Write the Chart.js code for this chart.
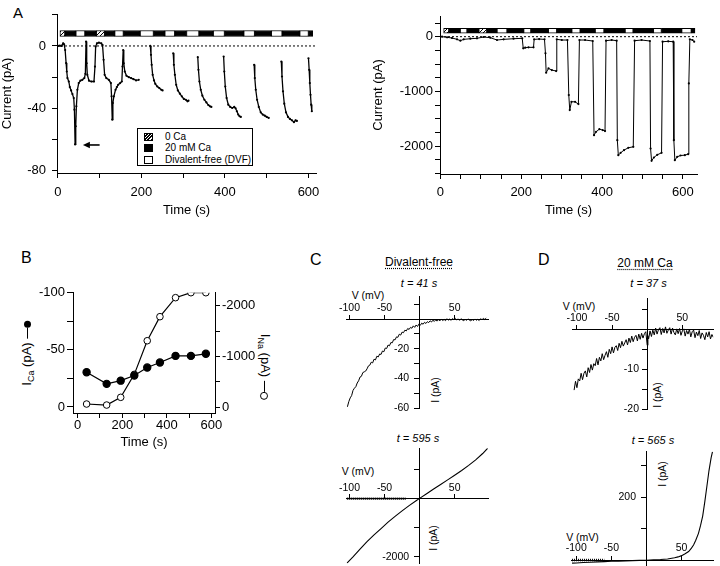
<!DOCTYPE html>
<html><head><meta charset="utf-8">
<script src="https://cdn.jsdelivr.net/npm/chart.js@4.4.1/dist/chart.umd.min.js"></script>
<style>
body{margin:0;background:#fff;}
#root{position:relative;width:720px;height:566px;overflow:hidden;font-family:"Liberation Sans",Arial,Helvetica,sans-serif;color:#000;background:#fff;}
#root canvas{position:absolute;}
.t{position:absolute;white-space:nowrap;line-height:1;}
.c{transform:translate(-50%,-50%);}
.rl{transform:translate(-50%,-50%) rotate(-90deg);}
.rr{transform:translate(-50%,-50%) rotate(90deg);}
.u{text-decoration:underline dotted;text-underline-offset:2px;}
.i{font-style:italic;}
.lg{position:absolute;left:6px;height:10px;line-height:10px;white-space:nowrap;font-size:10px;}
.sw{display:inline-block;width:7px;height:6px;border:1px solid #000;margin-right:12px;vertical-align:top;margin-top:1px;box-sizing:content-box;}
.hatch{background:repeating-linear-gradient(135deg,#fff 0,#fff 1.2px,#000 1.2px,#000 2.2px);}
.ln{display:inline-block;width:11px;height:1px;background:#000;vertical-align:middle;margin-left:4px;}
.dot{display:inline-block;width:7px;height:7px;border-radius:50%;background:#000;vertical-align:middle;}
.odot{display:inline-block;width:6px;height:6px;border-radius:50%;border:1px solid #000;background:#fff;vertical-align:middle;}
sub{font-size:9px;vertical-align:-3px;}
</style></head>
<body><div id="root">
<div class="t" style="left:13px;top:5px;font-size:15px">A</div>
<div class="t" style="left:21px;top:250px;font-size:16px">B</div>
<div class="t" style="left:310px;top:252px;font-size:16px">C</div>
<div class="t" style="left:538px;top:252px;font-size:16px">D</div>

<div style="position:absolute;left:137px;top:128px;width:114px;height:36px;border:1px solid #000;background:#fff;z-index:5">
  <div class="lg" style="top:2.5px"><span class="sw hatch"></span>0 Ca</div>
  <div class="lg" style="top:13.5px"><span class="sw" style="background:#000"></span>20 mM Ca</div>
  <div class="lg" style="top:26px"><span class="sw" style="background:#fff"></span>Divalent-free (DVF)</div>
</div>

<div class="t rl" style="left:28px;top:353px;font-size:13px">I<sub>Ca</sub> (pA)<span class="ln"></span><span class="dot"></span></div>
<div class="t rr" style="left:264px;top:367px;font-size:13px">I<sub>Na</sub> (pA)<span class="ln"></span><span class="odot"></span></div>

<div class="t c u" style="left:419px;top:262px;font-size:12px">Divalent-free</div>
<div class="t c i" style="left:419px;top:283px;font-size:11px">t = 41 s</div>
<div class="t c" style="left:368px;top:295px;font-size:10.5px">V (mV)</div>
<div class="t rl" style="left:435px;top:390px;font-size:10.5px">I (pA)</div>
<div class="t c i" style="left:418px;top:437.5px;font-size:11px">t = 595 s</div>
<div class="t c" style="left:358px;top:471px;font-size:10.5px">V (mV)</div>
<div class="t rl" style="left:432.5px;top:537.5px;font-size:10.5px">I (pA)</div>

<div class="t c u" style="left:645px;top:263px;font-size:12px">20 mM Ca</div>
<div class="t c i" style="left:648.5px;top:283px;font-size:11px">t = 37 s</div>
<div class="t c" style="left:579px;top:306px;font-size:10.5px">V (mV)</div>
<div class="t rl" style="left:656.5px;top:395px;font-size:10.5px">I (pA)</div>
<div class="t c i" style="left:653px;top:439.5px;font-size:11px">t = 565 s</div>
<div class="t c" style="left:582.5px;top:537px;font-size:10.5px">V (mV)</div>
<div class="t rl" style="left:662px;top:474px;font-size:10.5px">I (pA)</div>
</div>
<script>
// ================= DATA =================
// Panel A (left): Ca current, time (s) / current (pA); null = gap (off-scale DVF sweeps)
const aLeftTime = [
 0.8,4.8,8.7,12.7,15.1,17.5,19.8,21.4,23.0,26.2,
 28.6,31.7,34.9,38.1,39.7,41.3,42.9,44.4,46.8,50.0,
 54.0,58.7,63.5,65.9,67.5,69.1,70.6,74.6,80.2,86.5,
 88.9,90.5,93.7,98.4,104.0,107.0,109.5,112.0,116.0,122.0,
 127.0,128.6,130.2,131.8,134.1,138.1,141.3,144.5,149.2,153.2,
 154.8,156.4,157.9,160.3,164.3,169.9,175.4,181.0,187.3,193.7,
 null,
 221.4,223.0,224.6,227.0,230.2,233.3,238.1,242.9,247.6,250.8,
 null,
 276.2,277.8,280.2,283.3,287.3,292.1,296.8,301.6,306.4,310.3,312.7,
 null,
 335.0,336.6,338.9,342.1,346.0,350.8,355.6,360.3,364.3,367.5,
 null,
 396.9,398.5,400.8,404.0,408.0,412.7,417.5,422.3,425.5,428.6,431.8,435.0,438.1,
 null,
 469.9,471.5,473.8,477.0,481.0,485.7,490.5,495.3,500.0,504.8,
 null,
 535.0,536.6,539.0,542.1,546.1,550.9,555.6,560.4,565.2,569.1,572.3,
 null,
 600.0,601.6,603.2,604.8,606.4,608.0
];
const aLeftCurrent = [
 0,0.2,0,1.7,1.1,-2.6,-11,-16.4,-20.6,-22.8,
 -26.4,-28.5,-30.9,-33.4,-40.9,-63.2,-51.5,-38.7,-28.1,-23.8,
 -22.3,-21.7,-20.6,-17.9,2.8,-11.1,-18.5,-22.3,-22.8,-22.8,
 -13.2,-0.4,1.7,2.1,1.7,0.6,-8.9,-18.5,-20.6,-21.7,
 -23.8,-32.3,-47.2,-36.6,-32.3,-28.1,-26.4,-24.9,-23.8,-22.8,
 -13.2,-2.6,-11.1,-16.4,-19.1,-20,-20.6,-21.3,-22.1,-21.7,
 null,
 0,-5.7,-12.1,-18.5,-22.1,-24.3,-26,-27,-28.1,-28.5,
 null,
 -4.7,-12.1,-18.5,-24.9,-28.5,-30.6,-32.3,-34,-34.5,-35.5,-35.1,
 null,
 -7.2,-15.3,-22.8,-28.1,-31.9,-34.5,-36.2,-37.9,-38.7,-39.1,
 null,
 -6.8,-16.4,-26,-33.4,-37.7,-39.1,-39.8,-39.1,-40,-41.9,-44,-45.1,-45.5,
 null,
 -12.1,-20.6,-28.1,-34.5,-39.1,-42.6,-44,-44.7,-45.5,-46.2,
 null,
 -10,-19.6,-29.1,-37,-42.6,-45.5,-46.8,-47.7,-48.9,-47.7,-48.1,
 null,
 -7.9,-15.3,-23.8,-31.3,-37.7,-41.9
];
// solution bar: [start s, end s, kind]  h = 0 Ca, b = 20 mM Ca, w = divalent-free
const aLeftStim = [[5,17,'h'],[17,43,'b'],[43,65,'w'],[65,92,'b'],[92,112,'h'],[112,136,'b'],[136,157,'w'],[157,197,'b'],[197,229,'w'],[229,256,'b'],[256,280,'w'],[280,308,'b'],[308,338,'w'],[338,372,'b'],[372,399,'w'],[399,445,'b'],[445,471,'w'],[471,511,'b'],[511,537,'w'],[537,579,'b'],[579,600,'w'],[600,610,'b']];

// Panel A (right): full-scale current
const aRightTime = [4.1,16.5,28.8,41.2,49.4,57.6,74.1,90.5,107,123.5,140,156.4,181,202.5,205,209.9,218,230.4,232,244.4,257.6,260,261.7,267.5,275.7,286.4,288,300.4,314.4,317.7,320.1,324.3,333.3,341.5,344,358,377,380.2,385.2,393.4,401.6,407.4,409.9,423.8,436.2,437.8,440.3,446,454.3,465,477.3,480.6,497.9,518.5,520.1,522.6,528.4,536.6,547.3,549.8,563.8,576.1,577.7,580.2,586,594.2,604.9,613.1,614.8,617.3,623.8,628];
const aRightCurrent = [0,-12,-24,-49,-73,-49,-37,-30,-6,-18,-61,-49,-37,-30,-213,-201,-195,-195,-49,-43,-49,-305,-659,-580,-610,-628,-49,-61,-61,-1068,-1342,-1190,-1190,-1232,-61,-61,-79,-1800,-1739,-1690,-1708,-1726,-73,-61,-73,-1891,-2166,-2123,-2074,-2031,-2013,-73,-61,-79,-2044,-2269,-2208,-2159,-2123,-92,-85,-92,-1891,-2257,-2196,-2172,-2166,-2147,-854,-49,-61,-92];
const aRightStim = [[8,21,'h'],[21,49,'b'],[49,66,'w'],[66,95,'b'],[95,115,'h'],[115,140,'b'],[140,165,'w'],[165,206,'b'],[206,224,'w'],[224,267,'b'],[267,288,'w'],[288,325,'b'],[325,346,'w'],[346,383,'b'],[383,405,'w'],[405,457,'b'],[457,477,'w'],[477,527,'b'],[527,547,'w'],[547,597,'b'],[597,621,'w'],[621,630,'b']];

// Panel B
const bTime = [40,130,193,254,312,369,439,508,575];
const bCa   = [-30.4,-20.2,-23,-27.5,-34.5,-38.9,-44.7,-44.7,-46.5];
const bNa   = [-65,-45,-197,-650,-1313,-1787,-2162,-2260,-2260];

// Panel C: I-V relations, V (mV) / I (pA)
const cTopV = [-103,-101,-99,-97,-95,-93,-91,-89,-87,-85,-83,-81,-79,-77,-75,-73,-71,-69,-67,-65,-63,-61,-59,-57,-55,-53,-51,-49,-47,-45,-43,-41,-39,-37,-35,-33,-31,-29,-27,-25,-23,-21,-19,-17,-15,-13,-11,-9,-7,-5,-3,-1,1,3,5,7,9,11,13,15,17,19,21,23,25,27,29,31,33,35,37,39,41,43,45,47,49,51,53,55,57,59,61,63,65,67,69,71,73,75,77,79,81,83,85,87,89,91,93,95];
const cTopI = [-59,-55.5,-53,-51.5,-48,-46.5,-45.5,-43,-41.5,-39,-38.5,-36,-35.5,-35,-33.5,-31.5,-31,-29,-29.5,-27,-27.5,-25,-25.5,-23.5,-23.8,-21.5,-22,-19.5,-19.8,-17.5,-18,-15.8,-16,-13.8,-14,-12,-12.3,-10.2,-10.8,-8.8,-9.2,-7.5,-8,-6.4,-7,-5.6,-6.2,-4.6,-5.6,-4,-5,-3.4,-4.2,-2.8,-3.5,-2.2,-3,-1.8,-2.4,-1.2,-2,-0.8,-1.6,-0.6,-1.4,-0.4,-1.2,-0.2,-1,-0.3,-1.1,0.2,-0.8,0,-0.9,0.3,-0.5,0.4,-0.7,0.1,-0.9,0.2,-0.6,-1.2,-0.2,-0.9,0.1,-0.7,-1.3,-0.3,-1,0,-0.8,-0.2,-1,0.2,-0.5,0.4,-0.3,0.6];
const cBotV = [-104,-95,-85,-75,-65,-55,-45,-35,-25,-15,-5,0,10,20,30,40,50,60,70,80,90,97];
const cBotI = [-2230,-2010,-1740,-1480,-1250,-1030,-810,-610,-420,-240,-70,10,170,335,490,650,810,975,1150,1340,1560,1740];
const cBotBaseV = [-104,-20];
const cBotBaseI = [0,0];

// Panel D
const dTopV = [-104,-102,-100,-98,-96,-94,-92,-90,-88,-86,-84,-82,-80,-78,-76,-74,-72,-70,-68,-66,-64,-62,-60,-58,-56,-54,-52,-50,-48,-46,-44,-42,-40,-38,-36,-34,-32,-30,-28,-26,-24,-22,-20,-18,-16,-14,-12,-10,-8,-6,-4,-2,0,1,2,4,6,8,10,12,14,16,18,20,22,24,26,28,30,32,34,36,38,40,42,44,46,48,50,52,54,56,58,60,62,64,66,68,70,72,74,76,78,80,82,84,86,88,90,92,94];
const dTopI = [-15.2,-13.0,-14.6,-12.4,-12.9,-11.0,-12.6,-11.0,-10.4,-11.9,
 -9.6,-10.8,-8.8,-10.2,-8.6,-9.1,-7.3,-8.9,-7.0,-7.9,
 -6.1,-7.6,-6.5,-5.6,-7.0,-5.0,-6.1,-4.4,-5.9,-4.5,
 -4.1,-5.3,-3.5,-4.6,-3.0,-4.2,-3.4,-2.6,-3.9,-2.2,
 -3.3,-1.7,-3.1,-2.0,-1.5,-2.9,-1.2,-2.5,-1.0,-2.2,
 -1.1,-0.6,
 -4.0,-1.6,
 -2.4,-0.4,-1.8,-0.2,-1.4,0.3,-1.2,-0.1,0.4,-1.3,
 0.2,-0.9,0.6,-1.0,-0.2,0.4,-1.2,0.3,-0.8,-1.4,
 0.1,-1.1,0.2,-1.5,-0.4,0.1,-1.7,-0.3,-1.2,0.0,
 -1.9,-0.6,-0.2,-2.1,-0.7,-1.6,-0.3,-2.3,-0.9,-1.5,
 -2.6,-0.8,-1.9,-0.6,-2.4,-1.3,-2.0];
const dBotV = [-106,-100,-90,-80,-70,-60,-50,-40,-30,-20,-10,0,10,20,30,40,45,50,55,60,64,67,70,74,77,80,83,86,89,92,94];
const dBotI = [-10,-9.5,-8,-7,-6,-5,-4,-3.5,-2.8,-2,-1.2,-0.5,0.5,1.5,3.5,7,10,14,20,27,38,48,62,85,110,140,185,235,285,325,345];
const dBotBaseV = [-106,-60];
const dBotBaseI = [0,0];

// ================= RENDER =================
const FONT = '"Liberation Sans", Arial, Helvetica, sans-serif';
Chart.defaults.font.family = FONT;
Chart.defaults.color = '#000';
const root = document.getElementById('root');

function pairs(xs, ys){ return xs.map((x,i)=>({x:x, y:ys[i]})); }

function makeHatch(){
  const c = document.createElement('canvas'); c.width = 4; c.height = 4;
  const g = c.getContext('2d');
  g.fillStyle = '#fff'; g.fillRect(0,0,4,4);
  g.strokeStyle = '#000'; g.lineWidth = 1;
  g.beginPath(); g.moveTo(0,4); g.lineTo(4,0); g.moveTo(-1,1); g.lineTo(1,-1); g.moveTo(3,5); g.lineTo(5,3); g.stroke();
  return g.createPattern(c,'repeat');
}
const HATCH = makeHatch();

function stimDataset(segs, level, thick){
  return { type:'bar', indexAxis:'y', data: segs.map(s=>({x:[s[0],s[1]], y:level})),
    backgroundColor: segs.map(s=> s[2]==='b' ? '#000' : (s[2]==='w' ? '#fff' : HATCH)),
    borderColor:'#000', borderWidth:1, borderSkipped:false, barThickness:thick, grouped:false };
}

function axis(o){
  const a = {
    type:'linear', min:o.min, max:o.max, reverse:!!o.reverse, offset:false,
    border:{display:true, color:'#000', width:1},
    grid:{display:true, drawOnChartArea:false, drawTicks:true, tickLength:(o.tl!==undefined?o.tl:5), tickColor:'#000', tickWidth:1, offset:false, color:'#000'},
    ticks:{includeBounds:false, autoSkip:false, maxRotation:0, minRotation:0, z:1,
      padding:(o.pad!==undefined?o.pad:0), font:{size:(o.fs||13)}, color:'#000',
      callback:(v)=> o.show.some(s=>Math.abs(s-v)<1e-6*Math.max(1,Math.abs(s))) ? String(Math.round(v)) + (o.suffix||'') : ''},
    // tick marks on exact multiples of the step
    afterBuildTicks:(scale)=>{
      const first = Math.ceil(o.min / o.step - 1e-9);
      const last = Math.floor(o.max / o.step + 1e-9);
      const vals = [];
      for (let k = first; k <= last; k++) vals.push({value: k * o.step});
      scale.ticks = o.reverse ? vals.reverse() : vals;
    }
  };
  if (o.position !== undefined) a.position = o.position;
  if (o.size !== undefined) a.afterFit = (s)=>{ if (s.isHorizontal()) s.height = o.size; else s.width = o.size; };
  if (o.title) a.title = {display:true, text:o.title, color:'#000', font:{size:(o.tfs||13)}, padding:o.tpad};
  return a;
}

function mk(L, T, W, H, cfg){
  const cv = document.createElement('canvas');
  cv.width = W; cv.height = H;
  cv.style.left = L+'px'; cv.style.top = T+'px'; cv.style.width = W+'px'; cv.style.height = H+'px';
  root.appendChild(cv);
  cfg.options.responsive = false;
  cfg.options.animation = false;
  cfg.options.devicePixelRatio = 1;
  cfg.options.events = [];
  cfg.options.plugins = {legend:{display:false}, tooltip:{enabled:false}};
  return new Chart(cv.getContext('2d'), cfg);
}

const lineDs = (data, extra) => Object.assign({data:data, showLine:true, borderColor:'#000', borderWidth:1, pointRadius:0, spanGaps:false}, extra||{});

// arrow marking the transient peak in panel A (left)
const ARROW_HEAD_T = 60, ARROW_TAIL_T = 100;
const arrowPlugin = {
  id:'arrow',
  afterDatasetsDraw(chart){
    const {ctx, scales:{x, y}} = chart;
    const peak = Math.min(...aLeftCurrent.filter(v=>v!==null));
    const yp = y.getPixelForValue(peak) + 0.5;
    const xh = x.getPixelForValue(ARROW_HEAD_T), xt = x.getPixelForValue(ARROW_TAIL_T);
    ctx.save(); ctx.strokeStyle = '#000'; ctx.fillStyle = '#000'; ctx.lineWidth = 1.6;
    ctx.beginPath(); ctx.moveTo(xt, yp); ctx.lineTo(xh+5, yp); ctx.stroke();
    ctx.beginPath(); ctx.moveTo(xh, yp); ctx.lineTo(xh+7, yp-3.2); ctx.lineTo(xh+7, yp+3.2); ctx.closePath(); ctx.fill();
    ctx.restore();
  }
};

const AL_X = {min:-2, max:618};
mk(0, 0, 330, 225, {
  type:'scatter',
  data:{datasets:[
    lineDs(pairs(aLeftTime, aLeftCurrent), {borderWidth:1.3, pointRadius:1.1, pointBackgroundColor:'#000', pointBorderWidth:0}),
    lineDs([{x:AL_X.min, y:0},{x:AL_X.max, y:0}], {borderDash:[2,2]}),
    stimDataset(aLeftStim, 8, 6)
  ]},
  options:{layout:{padding:{left:0, right:14, top:14, bottom:0}},
    scales:{
      x: axis({min:AL_X.min, max:AL_X.max, step:100, show:[0,200,400,600], size:52, pad:7, position:'bottom', title:'Time (s)', tpad:{top:0,bottom:7}}),
      y: axis({min:-81.5, max:20.5, step:20, show:[0,-40,-80], size:57, pad:6, position:'left', title:'Current (pA)', tpad:{top:0,bottom:0}})
    }},
  plugins:[arrowPlugin]
});

const AR_X = {min:-1, max:635};
mk(360, 0, 360, 225, {
  type:'scatter',
  data:{datasets:[
    lineDs(pairs(aRightTime, aRightCurrent), {borderWidth:1, pointRadius:1.1, pointBackgroundColor:'#000', pointBorderWidth:0}),
    lineDs([{x:AR_X.min, y:0},{x:AR_X.max, y:0}], {borderDash:[2,2]}),
    stimDataset(aRightStim, 108, 5)
  ]},
  options:{layout:{padding:{left:0, right:23, top:16, bottom:0}},
    scales:{
      x: axis({min:AR_X.min, max:AR_X.max, step:50, show:[0,200,400,600], size:51, pad:6, position:'bottom', title:'Time (s)', tpad:{top:0,bottom:7}}),
      y: axis({min:-2510, max:378, step:250, show:[0,-1000,-2000], size:80, pad:2, position:'left', title:'Current (pA)', tpad:{top:11,bottom:0}})
    }}
});

mk(0, 240, 270, 220, {
  type:'scatter',
  data:{datasets:[
    lineDs(pairs(bTime, bCa), {yAxisID:'y', borderWidth:1.2, pointRadius:3.6, pointBackgroundColor:'#000', pointBorderColor:'#000'}),
    lineDs(pairs(bTime, bNa), {yAxisID:'y1', borderWidth:1.2, pointRadius:3.3, pointBackgroundColor:'#fff', pointBorderColor:'#000', pointBorderWidth:1})
  ]},
  options:{layout:{padding:{left:0, right:0, top:52.7, bottom:0}},
    scales:{
      x: axis({min:-21, max:616, step:100, show:[0,200,400,600], size:47, pad:0, position:'bottom', title:'Time (s)', tpad:{top:0,bottom:10}}),
      y: axis({min:-100, max:5.3, reverse:true, step:25, show:[-100,-50,0], size:73, pad:2, tl:6, position:'left'}),
      y1: axis({min:-2260, max:112, reverse:true, step:500, show:[-2000,-1000,0], size:55, pad:2, position:'right'})
    }}
});

mk(280, 275, 230, 160, {
  type:'scatter',
  data:{datasets:[ lineDs(pairs(cTopV, cTopI), {borderWidth:1}) ]},
  options:{layout:{padding:{left:66.7, right:21.7, top:21.7, bottom:26.7}},
    scales:{
      x: axis({min:-104, max:98, step:50, show:[-100,-50,50], position:{y:0}, tl:-5, pad:-12.3, fs:10.5}),
      y: axis({min:-60, max:15, step:10, show:[-20,-40,-60], position:{x:0}, tl:5, fs:10.5, suffix:'\u2002\u2002'})
    }}
});

mk(280, 430, 230, 150, {
  type:'scatter',
  data:{datasets:[
    lineDs(pairs(cBotV, cBotI), {borderWidth:1.1}),
    lineDs(pairs(cBotBaseV, cBotBaseI), {borderWidth:2.5, borderDash:[1,1]})
  ]},
  options:{layout:{padding:{left:66.7, right:21.7, top:18.3, bottom:16.7}},
    scales:{
      x: axis({min:-104, max:98, step:50, show:[-100,-50,50], position:{y:0}, tl:-5, pad:-12.3, fs:10.5}),
      y: axis({min:-2230, max:1740, step:1000, show:[-2000], position:{x:0}, tl:5, fs:10.5, suffix:'\u2002\u2002'})
    }}
});

mk(520, 280, 200, 145, {
  type:'scatter',
  data:{datasets:[ lineDs(pairs(dTopV, dTopI), {borderWidth:1}) ]},
  options:{layout:{padding:{left:52.7, right:6.7, top:18.3, bottom:15.7}},
    scales:{
      x: axis({min:-106, max:94, step:50, show:[-100,-50,50], position:{y:0}, tl:-5, pad:-12.3, fs:10.5}),
      y: axis({min:-20, max:7.75, step:5, show:[-10,-20], position:{x:0}, tl:5, fs:10.5, suffix:'\u2002\u00a0'})
    }}
});

mk(520, 430, 200, 150, {
  type:'scatter',
  data:{datasets:[
    lineDs(pairs(dBotV, dBotI), {borderWidth:1.1}),
    lineDs(pairs(dBotBaseV, dBotBaseI), {borderWidth:2.5, borderDash:[1,1]})
  ]},
  options:{layout:{padding:{left:51.7, right:7, top:21.7, bottom:14}},
    scales:{
      x: axis({min:-106.5, max:94.7, step:50, show:[-100,-50,50], position:{y:0}, tl:-5, pad:-13, fs:10.5}),
      y: axis({min:-19, max:345, step:100, show:[200], position:{x:0}, tl:5, fs:10.5, suffix:'\u2002\u2002'})
    }}
});
</script>
</body></html>
